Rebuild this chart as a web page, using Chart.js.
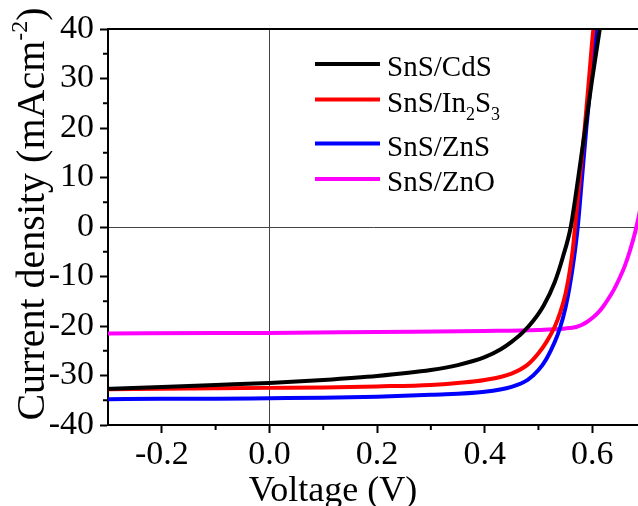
<!DOCTYPE html>
<html>
<head>
<meta charset="utf-8">
<script src="https://cdn.jsdelivr.net/npm/chart.js@4.4.1/dist/chart.umd.min.js"></script>
<style>
  html, body { margin: 0; padding: 0; background: #fff; overflow: hidden; }
  #wrap { width: 638px; height: 506px; }
</style>
</head>
<body>
<div id="wrap"><canvas id="jvChart"></canvas></div>
<script>
// J-V curves: voltage (V) vs current density (mA/cm2)
var cdsV = [-0.3, -0.2, -0.1, 0.0, 0.1, 0.2, 0.3, 0.35, 0.4, 0.43, 0.45, 0.47, 0.49, 0.51, 0.53, 0.545, 0.56, 0.574, 0.587, 0.6, 0.614, 0.62];
var cdsJ = [-32.7, -32.3, -31.9, -31.5, -30.9, -30.1, -28.9, -27.9, -26.3, -24.7, -23.2, -21.4, -19.0, -15.8, -11.2, -6.2, 0.0, 10.0, 20.0, 30.0, 40.0, 44.5];

var in2s3V = [-0.3, -0.2, -0.1, 0.0, 0.1, 0.2, 0.3, 0.35, 0.4, 0.45, 0.48, 0.5, 0.515, 0.53, 0.54, 0.55, 0.558, 0.564, 0.568, 0.577, 0.586, 0.594, 0.602, 0.608];
var in2s3J = [-32.8, -32.7, -32.6, -32.5, -32.4, -32.2, -31.9, -31.5, -30.9, -29.6, -27.8, -25.5, -23.2, -20.2, -17.4, -13.6, -9.0, -4.4, 0.0, 10.0, 20.0, 30.0, 40.0, 45.0];

var znsV = [-0.3, -0.2, -0.1, 0.0, 0.1, 0.2, 0.3, 0.4, 0.45, 0.48, 0.5, 0.515, 0.53, 0.54, 0.55, 0.558, 0.566, 0.573, 0.581, 0.589, 0.598, 0.607, 0.612];
var znsJ = [-34.8, -34.7, -34.7, -34.6, -34.5, -34.3, -33.9, -33.3, -32.3, -30.9, -28.9, -26.6, -23.3, -20.4, -16.4, -12.0, -6.3, 0.0, 10.0, 20.0, 30.0, 40.0, 45.0];

var znoV = [-0.3, -0.1, 0.0, 0.2, 0.4, 0.5, 0.55, 0.57, 0.58, 0.59, 0.6, 0.61, 0.62, 0.63, 0.64, 0.65, 0.66, 0.67, 0.68, 0.69, 0.7];
var znoJ = [-21.5, -21.4, -21.4, -21.2, -21.0, -20.8, -20.5, -20.2, -19.8, -19.2, -18.4, -17.4, -16.1, -14.5, -12.7, -10.5, -8.0, -4.8, -0.9, 4.0, 9.5];

var seriesLabels = ['SnS/CdS', 'SnS/In_2S_3', 'SnS/ZnS', 'SnS/ZnO'];
var seriesColors = ['#000000', '#ff0000', '#0000ff', '#ff00ff'];

var voltageTicks = [-0.2, 0.0, 0.2, 0.4, 0.6];
var voltageMinor = [-0.1, 0.1, 0.3, 0.5];
var currentTicks = [-40, -30, -20, -10, 0, 10, 20, 30, 40];
var currentMinor = [-35, -25, -15, -5, 5, 15, 25, 35];

var serif = "'Liberation Serif', 'Times New Roman', serif";

function toPoints(xs, ys) {
    return xs.map(function (x, i) { return { x: x, y: ys[i] }; });
}

// draws text where "_n" means subscript and "^n" means superscript
function richText(ctx, text, x, y, size, smallSize, subShift, supShift, measureOnly) {
    var parts = text.split(/([_^][0-9\-]+)/).filter(function (p) { return p.length; });
    var cx = x;
    parts.forEach(function (p) {
        var dy = 0, s = size, t = p;
        if (p[0] === '_') { t = p.slice(1); s = smallSize; dy = subShift; }
        else if (p[0] === '^') { t = p.slice(1); s = smallSize; dy = -supShift; }
        ctx.font = s + 'px ' + serif;
        if (!measureOnly) ctx.fillText(t, cx, y + dy);
        cx += ctx.measureText(t).width;
    });
    return cx - x;
}

var decorations = {
    id: 'decorations',
    afterDraw: function (chart) {
        var ctx = chart.ctx, area = chart.chartArea;
        var xs = chart.scales.x, ys = chart.scales.y;
        ctx.save();
        ctx.strokeStyle = '#000';
        ctx.lineWidth = 2;

        // top frame line
        ctx.beginPath();
        ctx.moveTo(area.left - 1, area.top);
        ctx.lineTo(area.right, area.top);
        ctx.stroke();

        // minor ticks
        ctx.beginPath();
        voltageMinor.forEach(function (v) {
            var px = xs.getPixelForValue(v);
            ctx.moveTo(px, area.bottom);
            ctx.lineTo(px, area.bottom + 5);
        });
        currentMinor.forEach(function (v) {
            var py = ys.getPixelForValue(v);
            ctx.moveTo(area.left - 5, py);
            ctx.lineTo(area.left, py);
        });
        ctx.stroke();

        // legend
        ctx.fillStyle = '#000';
        ctx.textBaseline = 'alphabetic';
        ctx.textAlign = 'left';
        var rowY = 64;
        chart.data.datasets.forEach(function (ds) {
            ctx.strokeStyle = ds.borderColor;
            ctx.lineWidth = 4;
            ctx.beginPath();
            ctx.moveTo(315, rowY);
            ctx.lineTo(380, rowY);
            ctx.stroke();
            richText(ctx, ds.label, 387, rowY + 12, 29, 18, 8, 0);
            rowY += ds.label.indexOf('_') >= 0 ? 44 : 35.5;
        });

        // axis titles
        ctx.font = '36px ' + serif;
        ctx.textAlign = 'center';
        ctx.fillText('Voltage (V)', 333, 501);

        var yTitle = 'Current density (mAcm^-2)';
        ctx.translate(44, 214);
        ctx.rotate(-Math.PI / 2);
        var w = richText(ctx, yTitle, 0, 0, 40, 24, 0, 17, true);
        ctx.textAlign = 'left';
        richText(ctx, yTitle, -w / 2, 0, 40, 24, 0, 17, false);
        ctx.restore();
    }
};

var datasets = [
    [cdsV, cdsJ], [in2s3V, in2s3J], [znsV, znsJ], [znoV, znoJ]
].map(function (s, i) {
    return {
        label: seriesLabels[i],
        data: toPoints(s[0], s[1]),
        borderColor: seriesColors[i],
        backgroundColor: seriesColors[i],
        borderWidth: 4,
        pointRadius: 0,
        cubicInterpolationMode: 'monotone',
        fill: false
    };
});

function zeroLine(c) {
    return c.tick && c.tick.value === 0 ? '#444' : 'rgba(0,0,0,0)';
}

var ctx = document.getElementById('jvChart').getContext('2d');
var jvChart = new Chart(ctx, {
    type: 'line',
    data: { datasets: datasets },
    options: {
        responsive: true,
        maintainAspectRatio: false,
        animation: false,
        layout: { padding: { top: 29, right: 0, left: 0, bottom: 0 } },
        plugins: { legend: { display: false }, tooltip: { enabled: false } },
        scales: {
            x: {
                type: 'linear',
                min: -0.3,
                max: 0.685,
                afterBuildTicks: function (scale) {
                    scale.ticks = voltageTicks.map(function (v) { return { value: v }; });
                },
                afterFit: function (scale) { scale.height = 81; },
                ticks: {
                    color: '#000',
                    font: { family: serif, size: 34 },
                    padding: 2,
                    maxRotation: 0,
                    autoSkip: false,
                    callback: function (v) { return v.toFixed(1); }
                },
                grid: { color: zeroLine, lineWidth: 1, tickColor: '#000', tickWidth: 2, tickLength: 8 },
                border: { display: true, color: '#000', width: 2 }
            },
            y: {
                type: 'linear',
                min: -40,
                max: 40,
                afterBuildTicks: function (scale) {
                    scale.ticks = currentTicks.map(function (v) { return { value: v }; });
                },
                afterFit: function (scale) { scale.width = 108; },
                ticks: {
                    color: '#000',
                    font: { family: serif, size: 34 },
                    padding: 6,
                    autoSkip: false,
                    callback: function (v) { return String(v); }
                },
                grid: { color: zeroLine, lineWidth: 1, tickColor: '#000', tickWidth: 2, tickLength: 8 },
                border: { display: true, color: '#000', width: 2 }
            }
        }
    },
    plugins: [decorations]
});
</script>
</body>
</html>
